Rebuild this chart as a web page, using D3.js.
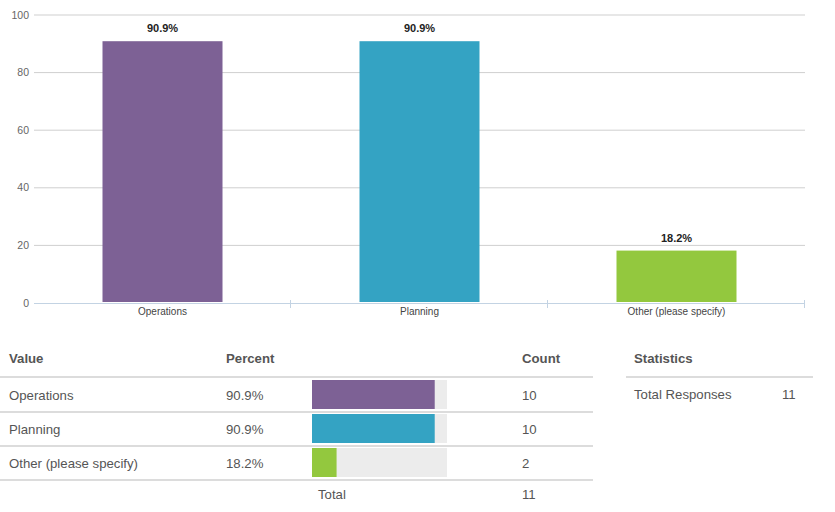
<!DOCTYPE html>
<html><head><meta charset="utf-8">
<script src="https://cdn.jsdelivr.net/npm/d3@7"></script>
<style>
body{margin:0;background:#fff;font-family:"Liberation Sans",Arial,Helvetica,sans-serif;}
</style></head>
<body><svg id="c" width="835" height="512"></svg>
<script>
const categories = ["Operations","Planning","Other (please specify)"];
const percents = [90.9, 90.9, 18.2];
const counts = [10, 10, 2];
const colors = ["#7d6195","#34a3c3","#93c83e"];
const yTicks = [0,20,40,60,80,100];
const totalCount = 11;
const statLabels = ["Total Responses"];
const statValues = [11];

const svg = d3.select("#c");
const font = '"Liberation Sans",Arial,Helvetica,sans-serif';

// ---- chart ----
const x = d3.scaleBand().domain(categories).range([34,805]).paddingInner(0).paddingOuter(0);
const y = d3.scaleLinear().domain([0,100]).range([303,15]);
const barW = 120;

const g = svg.append("g");
g.selectAll("line.grid").data(yTicks.filter(d=>d>0)).join("line")
  .attr("x1",34).attr("x2",805)
  .attr("y1",d=>y(d)).attr("y2",d=>y(d))
  .attr("stroke","#cfcfcf").attr("stroke-width",1);
g.selectAll("text.yt").data(yTicks).join("text")
  .attr("x",29).attr("y",d=>y(d)+3.5)
  .attr("text-anchor","end").attr("font-size",10.5).attr("fill","#666")
  .attr("font-family",font).text(d=>d);
g.selectAll("rect.bar").data(categories).join("rect")
  .attr("x",d=>x(d)+x.bandwidth()/2-barW/2)
  .attr("width",barW)
  .attr("y",(d,i)=>y(percents[i]))
  .attr("height",(d,i)=>y(0)-y(percents[i])-1)
  .attr("fill",(d,i)=>colors[i]);
g.selectAll("text.val").data(categories).join("text")
  .attr("x",d=>x(d)+x.bandwidth()/2)
  .attr("y",(d,i)=>y(percents[i])-9)
  .attr("text-anchor","middle").attr("font-size",11).attr("font-weight","bold")
  .attr("fill","#222").attr("font-family",font)
  .text((d,i)=>percents[i].toFixed(1)+"%");
g.append("line").attr("x1",34).attr("x2",805).attr("y1",303.5).attr("y2",303.5)
  .attr("stroke","#c3d3e3").attr("stroke-width",1);
const bounds = categories.map(d=>x(d)).concat([x.range()[1]]);
g.selectAll("line.xt").data(bounds.slice(1)).join("line")
  .attr("x1",d=>d-0.5).attr("x2",d=>d-0.5).attr("y1",300).attr("y2",308)
  .attr("stroke","#c3d3e3");
g.selectAll("text.xl").data(categories).join("text")
  .attr("x",d=>x(d)+x.bandwidth()/2).attr("y",315)
  .attr("text-anchor","middle").attr("font-size",10).attr("fill","#444")
  .attr("font-family",font).text(d=>d);

// ---- table ----
const t = svg.append("g").attr("font-family",font);
const fs = 13.2;
const hdrY = 363;
const hdr = [["Value",9],["Percent",226],["Count",522],["Statistics",634]];
t.selectAll("text.h").data(hdr).join("text")
  .attr("x",d=>d[1]).attr("y",hdrY).attr("font-size",fs).attr("font-weight","bold")
  .attr("fill","#555").text(d=>d[0]);
t.append("rect").attr("x",0).attr("y",376).attr("width",593).attr("height",2).attr("fill","#dcdcdc");
t.append("rect").attr("x",626).attr("y",376).attr("width",187).attr("height",2).attr("fill","#dcdcdc");

const rowTop = [378, 412, 446];
const rowH = 34;
const bx = d3.scaleLinear().domain([0,100]).range([312,447]);
categories.forEach((c,i)=>{
  const ty = rowTop[i];
  const cy = ty + rowH/2 + 4.5;
  t.append("text").attr("x",9).attr("y",cy).attr("font-size",fs).attr("fill","#555").text(c);
  t.append("text").attr("x",226).attr("y",cy).attr("font-size",fs).attr("fill","#555").text(percents[i].toFixed(1)+"%");
  t.append("rect").attr("x",bx(0)).attr("y",ty+2).attr("width",bx(100)-bx(0)).attr("height",29).attr("fill","#ececec");
  t.append("rect").attr("x",bx(0)).attr("y",ty+2).attr("width",bx(percents[i])-bx(0)).attr("height",29).attr("fill",colors[i]);
  t.append("text").attr("x",522).attr("y",cy).attr("font-size",fs).attr("fill","#555").text(counts[i]);
  t.append("rect").attr("x",0).attr("y",ty+rowH-1).attr("width",593).attr("height",2).attr("fill","#dcdcdc");
});
t.append("text").attr("x",318).attr("y",499).attr("font-size",fs).attr("fill","#555").text("Total");
t.append("text").attr("x",522).attr("y",499).attr("font-size",fs).attr("fill","#555").text(totalCount);

statLabels.forEach((s,i)=>{
  t.append("text").attr("x",634).attr("y",399+i*34).attr("font-size",fs).attr("fill","#555").text(s);
  t.append("text").attr("x",782).attr("y",399+i*34).attr("font-size",fs).attr("fill","#555").text(statValues[i]);
});
</script></body></html>
